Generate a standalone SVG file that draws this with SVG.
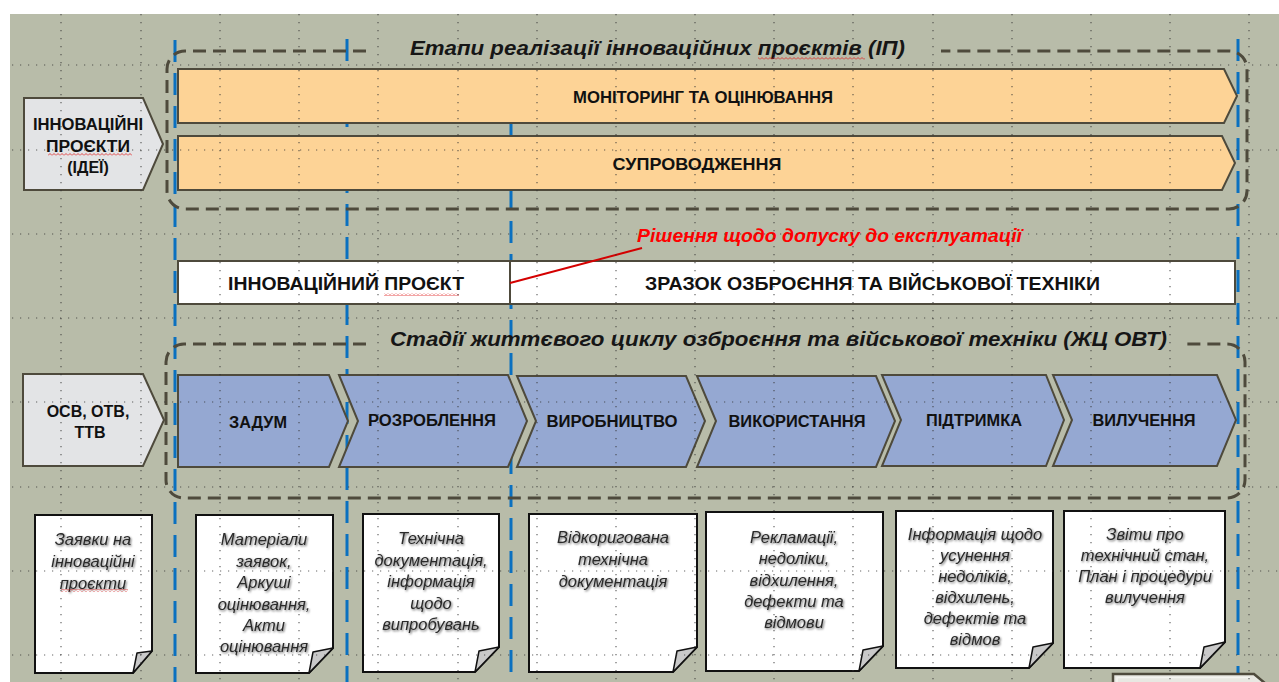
<svg xmlns="http://www.w3.org/2000/svg" width="1279" height="682" viewBox="0 0 1279 682">
  <defs>
    <style>
      .lbl { font-family: "Liberation Sans", Arial, sans-serif; font-weight: bold; fill: #111; text-anchor: middle; }
      .ttl { font-family: "Liberation Sans", Arial, sans-serif; font-weight: bold; font-style: italic; fill: #161616; text-anchor: middle; font-size: 21px; }
      .doctext { font-family: "Liberation Sans", Arial, sans-serif; font-style: italic; fill: #2a2a2a; text-anchor: middle; font-size: 16.5px; }
      .bar { fill: #fdd396; stroke: #4e4a3c; stroke-width: 2; }
      .chev { fill: #95a8d2; stroke: #4e4a3c; stroke-width: 2; }
      .pent { fill: #e3e4e6; stroke: #4e4a3c; stroke-width: 2; }
      .frame { fill: none; stroke: #4e4a3c; stroke-width: 3; stroke-dasharray: 13 7; }
      .phase { stroke: #0a70c0; stroke-width: 3; stroke-dasharray: 22 11; fill: none; }
      .page { fill: #fff; stroke: #111; stroke-width: 2; }
      .fold { fill: #c9c9c9; stroke: #111; stroke-width: 1.5; stroke-linejoin: round; }
      .gv { stroke: #333; stroke-opacity: 0.75; stroke-width: 1.2; stroke-dasharray: 1.2 6.8; }
      .gh { stroke: #333; stroke-opacity: 0.75; stroke-width: 1.2; stroke-dasharray: 1.2 6.8; }
    </style>
    <filter id="softShadow" x="-10%" y="-10%" width="130%" height="130%">
      <feDropShadow dx="1" dy="1.2" stdDeviation="1.2" flood-color="#000" flood-opacity="0.6"/>
    </filter>
    <pattern id="wavy" width="4" height="3" patternUnits="userSpaceOnUse">
      <path d="M0,2.5 L2,0.5 L4,2.5" fill="none" stroke="#e02020" stroke-width="0.8"/>
    </pattern>
  </defs>

  <!-- canvas -->
  <rect x="0" y="0" width="1279" height="682" fill="#ffffff"/>
  <rect x="10" y="14" width="1269" height="668" fill="#b8bca9"/>

  <!-- phase boundaries -->
  <g id="phase-lines">
    <line class="phase" x1="175" y1="40" x2="175" y2="682"/>
    <line class="phase" x1="347" y1="39" x2="347" y2="682"/>
    <line class="phase" x1="511" y1="122" x2="511" y2="682"/>
    <line class="phase" x1="1238" y1="39" x2="1238" y2="682"/>
  </g>

  <!-- dashed frames with their titles -->
  <g id="frame-stages">
    <path class="frame" d="M366,51 H185 A18,18 0 0 0 167,69 V191 A18,18 0 0 0 185,209 H1229 A18,18 0 0 0 1247,191 V69 A18,18 0 0 0 1229,51 H941"/>
    <text class="ttl" x="657.5" y="55" textLength="495" lengthAdjust="spacingAndGlyphs">Етапи реалізації інноваційних проєктів (ІП)</text>
    <rect x="758" y="57" width="107" height="3" fill="url(#wavy)"/>
  </g>
  <g id="frame-lifecycle">
    <path class="frame" d="M366,344 H184 A18,18 0 0 0 166,362 V480 A18,18 0 0 0 184,498 H1227 A18,18 0 0 0 1245,480 V362 A18,18 0 0 0 1227,344 H1183"/>
    <text class="ttl" x="778.5" y="346" textLength="777" lengthAdjust="spacingAndGlyphs">Стадії життєвого циклу озброєння та військової техніки (ЖЦ ОВТ)</text>
  </g>

  <!-- inputs -->
  <g id="input-ideas">
    <path class="pent" d="M24,98 H143 L163,144 L143,190 H24 Z"/>
    <text class="lbl" font-size="16" x="88" y="130" textLength="110" lengthAdjust="spacingAndGlyphs">ІННОВАЦІЙНІ</text>
    <text class="lbl" font-size="16" x="88" y="152" textLength="84" lengthAdjust="spacingAndGlyphs">ПРОЄКТИ</text>
    <text class="lbl" font-size="16" x="88" y="173">(ІДЕЇ)</text>
    <rect x="48" y="153" width="84" height="3" fill="url(#wavy)"/>
  </g>
  <g id="input-requirements">
    <path class="pent" d="M23,374 H143 L164,420 L143,466 H23 Z"/>
    <text class="lbl" font-size="16" x="88" y="417">ОСВ, ОТВ,</text>
    <text class="lbl" font-size="16" x="90" y="438">ТТВ</text>
  </g>

  <!-- continuous activities -->
  <g id="monitoring">
    <path class="bar" d="M178,69 H1224 L1237,96 L1224,123 H178 Z"/>
    <text class="lbl" font-size="17" x="703" y="103" textLength="260" lengthAdjust="spacingAndGlyphs">МОНІТОРИНГ ТА ОЦІНЮВАННЯ</text>
  </g>
  <g id="support">
    <path class="bar" d="M178,136 H1222 L1235,163 L1222,190 H178 Z"/>
    <text class="lbl" font-size="17" x="697" y="170" textLength="169" lengthAdjust="spacingAndGlyphs">СУПРОВОДЖЕННЯ</text>
  </g>

  <!-- object status -->
  <g id="status">
    <rect x="178" y="261" width="1057" height="43" fill="#ffffff" stroke="#4e4a3c" stroke-width="2"/>
    <line x1="510" y1="261" x2="510" y2="304" stroke="#4e4a3c" stroke-width="2"/>
    <text class="lbl" font-size="18" x="346" y="290" textLength="236" lengthAdjust="spacingAndGlyphs">ІННОВАЦІЙНИЙ ПРОЄКТ</text>
    <rect x="384" y="293" width="75" height="3" fill="url(#wavy)"/>
    <text class="lbl" font-size="18" x="872.5" y="290" textLength="455" lengthAdjust="spacingAndGlyphs">ЗРАЗОК ОЗБРОЄННЯ ТА ВІЙСЬКОВОЇ ТЕХНІКИ</text>
  </g>

  <!-- lifecycle stages -->
  <g id="stage-concept">
    <path class="chev" d="M178,375 H329 L348,421 L329,467 H178 Z"/>
    <text class="lbl" font-size="16" x="258" y="428" textLength="58" lengthAdjust="spacingAndGlyphs">ЗАДУМ</text>
  </g>
  <g id="stage-development">
    <path class="chev" d="M339,375 H508 L527,421 L508,467 H339 L358,421 Z"/>
    <text class="lbl" font-size="16" x="432" y="426" textLength="128" lengthAdjust="spacingAndGlyphs">РОЗРОБЛЕННЯ</text>
  </g>
  <g id="stage-production">
    <path class="chev" d="M517,376 H686 L705,421 L686,467 H517 L536,421 Z"/>
    <text class="lbl" font-size="16" x="612" y="427" textLength="131" lengthAdjust="spacingAndGlyphs">ВИРОБНИЦТВО</text>
  </g>
  <g id="stage-utilization">
    <path class="chev" d="M697,376 H876 L895,421 L876,467 H697 L716,421 Z"/>
    <text class="lbl" font-size="16" x="797" y="427" textLength="137" lengthAdjust="spacingAndGlyphs">ВИКОРИСТАННЯ</text>
  </g>
  <g id="stage-support">
    <path class="chev" d="M882,375 H1046 L1064,420 L1046,466 H882 L901,420 Z"/>
    <text class="lbl" font-size="16" x="974" y="426" textLength="96" lengthAdjust="spacingAndGlyphs">ПІДТРИМКА</text>
  </g>
  <g id="stage-retirement">
    <path class="chev" d="M1053,375 H1217 L1236,420 L1217,466 H1053 L1072,420 Z"/>
    <text class="lbl" font-size="16" x="1144" y="426" textLength="103" lengthAdjust="spacingAndGlyphs">ВИЛУЧЕННЯ</text>
  </g>

  <!-- documents per stage -->
  <g id="doc-applications">
    <path class="page" d="M35,515 H152 V651 L133,673 H35 Z"/>
    <path class="fold" d="M133,673 L137,653 L152,651 Z"/>
    <g class="doctext" filter="url(#softShadow)">
      <text x="93" y="545">Заявки на</text>
      <text x="93" y="567">інноваційні</text>
      <text x="93" y="589">проєкти</text>
    </g>
    <rect x="61" y="589" width="67" height="3" fill="url(#wavy)"/>
  </g>
  <g id="doc-evaluation">
    <path class="page" d="M196,515 H333 V648 L309,673 H196 Z"/>
    <path class="fold" d="M309,673 L313,652 L333,648 Z"/>
    <g class="doctext" filter="url(#softShadow)">
      <text x="264" y="545">Матеріали</text>
      <text x="264" y="567">заявок,</text>
      <text x="264" y="588">Аркуші</text>
      <text x="264" y="610">оцінювання,</text>
      <text x="264" y="631">Акти</text>
      <text x="264" y="652">оцінювання</text>
    </g>
  </g>
  <g id="doc-techdocs">
    <path class="page" d="M363,514 H499 V647 L475,672 H363 Z"/>
    <path class="fold" d="M475,672 L479,651 L499,647 Z"/>
    <g class="doctext" filter="url(#softShadow)">
      <text x="431" y="544">Технічна</text>
      <text x="431" y="566">документація,</text>
      <text x="431" y="587">інформація</text>
      <text x="431" y="609">щодо</text>
      <text x="431" y="630">випробувань</text>
    </g>
  </g>
  <g id="doc-corrected">
    <path class="page" d="M529,514 H697 V647 L673,672 H529 Z"/>
    <path class="fold" d="M673,672 L677,651 L697,647 Z"/>
    <g class="doctext" filter="url(#softShadow)">
      <text x="613" y="543">Відкоригована</text>
      <text x="613" y="565">технічна</text>
      <text x="613" y="587">документація</text>
    </g>
  </g>
  <g id="doc-claims">
    <path class="page" d="M706,512 H883 V646 L859,671 H706 Z"/>
    <path class="fold" d="M859,671 L863,650 L883,646 Z"/>
    <g class="doctext" filter="url(#softShadow)">
      <text x="794" y="543">Рекламації,</text>
      <text x="794" y="564">недоліки,</text>
      <text x="794" y="586">відхилення,</text>
      <text x="794" y="607">дефекти та</text>
      <text x="794" y="628">відмови</text>
    </g>
  </g>
  <g id="doc-remedies">
    <path class="page" d="M896,511 H1053 V643 L1029,668 H896 Z"/>
    <path class="fold" d="M1029,668 L1033,647 L1053,643 Z"/>
    <g class="doctext" filter="url(#softShadow)">
      <text x="975" y="540">Інформація щодо</text>
      <text x="975" y="561">усунення</text>
      <text x="975" y="582">недоліків,</text>
      <text x="975" y="603">відхилень,</text>
      <text x="975" y="624">дефектів та</text>
      <text x="975" y="645">відмов</text>
    </g>
  </g>
  <g id="doc-reports">
    <path class="page" d="M1064,511 H1225 V642 L1200,668 H1064 Z"/>
    <path class="fold" d="M1200,668 L1204,647 L1225,642 Z"/>
    <g class="doctext" filter="url(#softShadow)">
      <text x="1145" y="540">Звіти про</text>
      <text x="1145" y="561">технічний стан,</text>
      <text x="1145" y="582">План і процедури</text>
      <text x="1145" y="603">вилучення</text>
    </g>
  </g>

  <!-- shape continuing below the bottom edge -->
  <g id="next-block">
    <path d="M1113,684 V674 H1254 L1266,684" fill="#e8e8e2" stroke="#4e4a3c" stroke-width="2.5"/>
    <path d="M1117,684 V677.5 H1250" fill="none" stroke="#f4f4f0" stroke-width="1.5"/>
  </g>

  <!-- decision callout -->
  <g id="decision">
    <line x1="510" y1="283" x2="642" y2="248" stroke="#d40000" stroke-width="2"/>
    <text x="829.5" y="242" font-family="'Liberation Sans', Arial, sans-serif" font-weight="bold" font-style="italic" font-size="18" fill="#ff0000" text-anchor="middle" textLength="385" lengthAdjust="spacingAndGlyphs">Рішення щодо допуску до експлуатації</text>
  </g>

  <!-- dotted layout grid -->
  <g id="grid">
    <line class="gv" x1="61" y1="14" x2="61" y2="682"/>
    <line class="gv" x1="141" y1="14" x2="141" y2="682"/>
    <line class="gv" x1="220" y1="14" x2="220" y2="682"/>
    <line class="gv" x1="299" y1="14" x2="299" y2="682"/>
    <line class="gv" x1="378" y1="14" x2="378" y2="682"/>
    <line class="gv" x1="458" y1="14" x2="458" y2="682"/>
    <line class="gv" x1="537" y1="14" x2="537" y2="682"/>
    <line class="gv" x1="616" y1="14" x2="616" y2="682"/>
    <line class="gv" x1="695" y1="14" x2="695" y2="682"/>
    <line class="gv" x1="774" y1="14" x2="774" y2="682"/>
    <line class="gv" x1="853" y1="14" x2="853" y2="682"/>
    <line class="gv" x1="933" y1="14" x2="933" y2="682"/>
    <line class="gv" x1="1012" y1="14" x2="1012" y2="682"/>
    <line class="gv" x1="1091" y1="14" x2="1091" y2="682"/>
    <line class="gv" x1="1170" y1="14" x2="1170" y2="682"/>
    <line class="gv" x1="1249" y1="14" x2="1249" y2="682"/>
    <line class="gh" x1="12" y1="65" x2="1279" y2="65"/>
    <line class="gh" x1="12" y1="150" x2="1279" y2="150"/>
    <line class="gh" x1="12" y1="234" x2="1279" y2="234"/>
    <line class="gh" x1="12" y1="318" x2="1279" y2="318"/>
    <line class="gh" x1="12" y1="402" x2="1279" y2="402"/>
    <line class="gh" x1="12" y1="487" x2="1279" y2="487"/>
    <line class="gh" x1="12" y1="571" x2="1279" y2="571"/>
    <line class="gh" x1="12" y1="655" x2="1279" y2="655"/>
  </g>
</svg>
